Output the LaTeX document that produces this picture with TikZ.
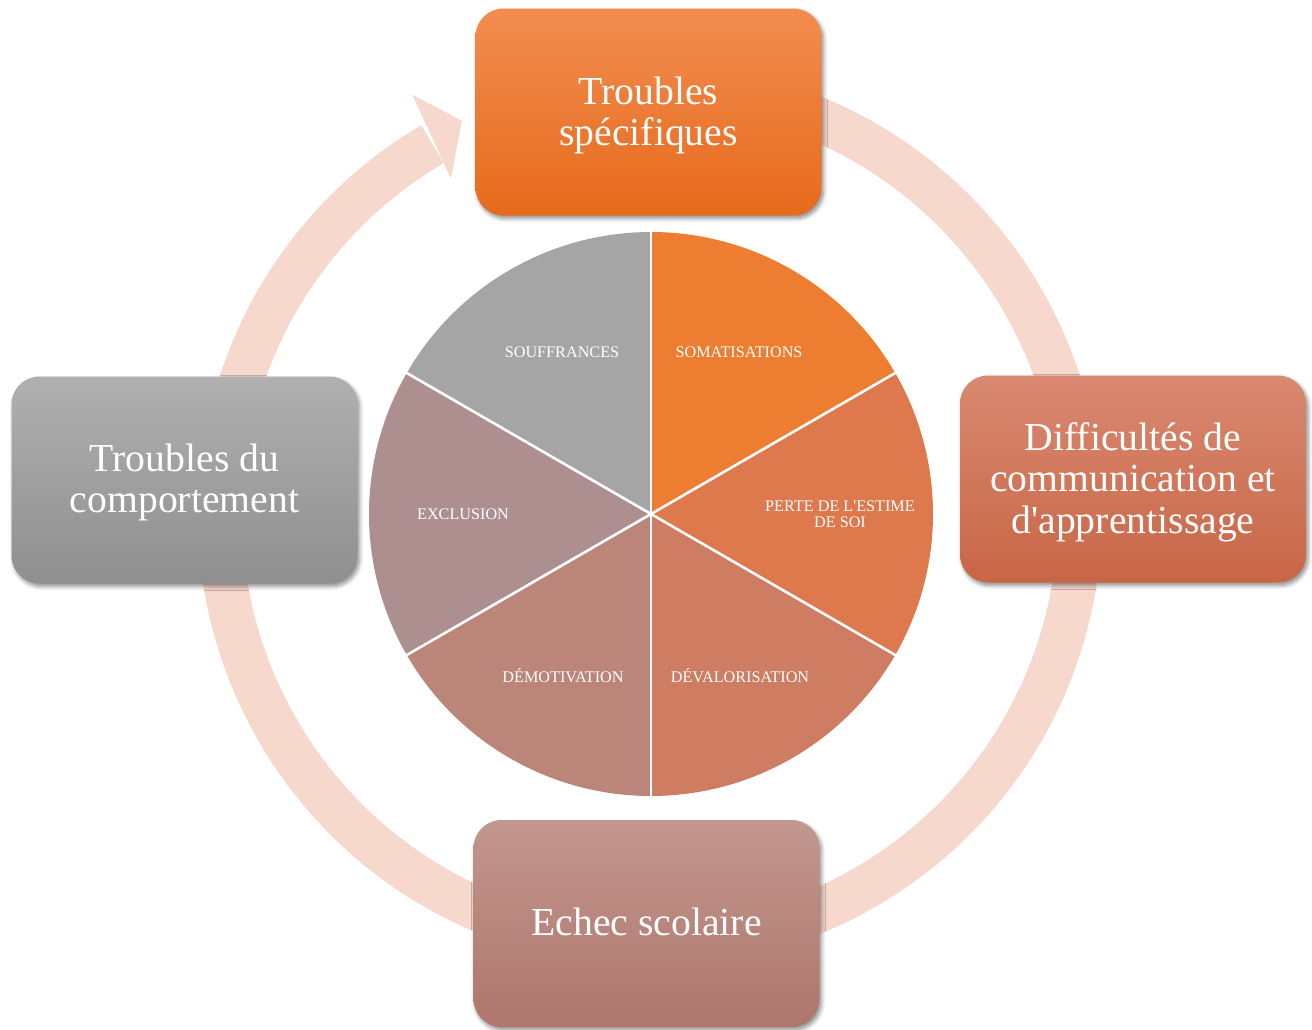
\documentclass[tikz,border=0pt]{standalone}
\usepackage{fontspec}
\setmainfont{Liberation Serif}[Ligatures=TeXOff]
\usetikzlibrary{shadows.blur}
\definecolor{ringc}{RGB}{247,216,205}
\definecolor{topA}{RGB}{242,141,80}
\definecolor{topB}{RGB}{230,106,28}
\definecolor{rgtA}{RGB}{217,137,113}
\definecolor{rgtB}{RGB}{200,102,70}
\definecolor{botA}{RGB}{194,151,143}
\definecolor{botB}{RGB}{174,118,108}
\definecolor{lftA}{RGB}{176,176,176}
\definecolor{lftB}{RGB}{143,143,143}
\definecolor{pA}{RGB}{237,125,49}
\definecolor{pB}{RGB}{221,121,76}
\definecolor{pC}{RGB}{206,124,98}
\definecolor{pD}{RGB}{188,133,122}
\definecolor{pE}{RGB}{174,143,143}
\definecolor{pF}{RGB}{165,165,165}
\tikzset{
  bigbox/.style={rectangle, rounded corners=28pt, minimum width=346pt, minimum height=207pt,
    inner sep=0pt,
    blur shadow={shadow xshift=2pt, shadow yshift=-3pt, shadow blur radius=4pt, shadow blur steps=6, shadow opacity=45}},
  boxtext/.style={align=center, text=white, inner sep=0pt, font=\fontsize{39.7}{41.5}\selectfont},
  slicelab/.style={text=white, align=center, font=\fontsize{16.2}{16.5}\selectfont, inner sep=0pt}
}
\begin{document}
\begin{tikzpicture}[x=1pt,y=1pt]
\useasboundingbox (0,0) rectangle (1312,-1029);
% ring with arrow head
\coordinate (rc) at (650,-515);
\draw[ringc, line width=44pt] ([shift={(78:430)}]rc) arc (78:-239.6:430);
\fill[ringc] ([shift={(119.5:483)}]rc) -- ([shift={(115.5:437)}]rc) -- ([shift={(120.6:391)}]rc) -- cycle;
% pie
\coordinate (pc) at (651,-514);
\def\pr{282}
\fill[pA] (pc) -- ++(90:\pr) arc (90:30:\pr) -- cycle;
\fill[pB] (pc) -- ++(30:\pr) arc (30:-30:\pr) -- cycle;
\fill[pC] (pc) -- ++(-30:\pr) arc (-30:-90:\pr) -- cycle;
\fill[pD] (pc) -- ++(-90:\pr) arc (-90:-150:\pr) -- cycle;
\fill[pE] (pc) -- ++(-150:\pr) arc (-150:-210:\pr) -- cycle;
\fill[pF] (pc) -- ++(150:\pr) arc (150:90:\pr) -- cycle;
\foreach \a in {90,30,-30,-90,-150,150}{
  \draw[white, line width=2.6pt] (pc) -- ++(\a:\pr+1);
}
\node[slicelab] (somat) at ([shift={(88,162)}]pc) {SOMATISATIONS};
\node[slicelab] (perte) at ([shift={(189,0)}]pc) {PERTE DE L'ESTIME\\DE SOI};
\node[slicelab] (deval) at ([shift={(89,-162)}]pc) {DÉVALORISATION};
\node[slicelab] (demot) at ([shift={(-88,-162)}]pc) {DÉMOTIVATION};
\node[slicelab] (exclu) at ([shift={(-188,0)}]pc) {EXCLUSION};
\node[slicelab] (souff) at ([shift={(-89,162)}]pc) {SOUFFRANCES};
% boxes
\node[bigbox, top color=topA, bottom color=topB] (ts) at (648.5,-112) {};
\node[bigbox, top color=rgtA, bottom color=rgtB] (dc) at (1133,-479) {};
\node[bigbox, top color=botA, bottom color=botB] (es) at (646.5,-923.5) {};
\node[bigbox, top color=lftA, bottom color=lftB] (tc) at (184.5,-480) {};
\node[boxtext] (tsT) at ([yshift=-3.5pt]ts.center) {Troubles\\spécifiques};
\node[boxtext] (dcT) at ([yshift=-3pt]dc.center) {Difficultés de\\communication et\\d'apprentissage};
\node[boxtext] (esT) at ([yshift=2pt]es.center) {Echec scolaire};
\node[boxtext] (tcT) at ([yshift=-2.5pt]tc.center) {Troubles du\\comportement};
\end{tikzpicture}
\end{document}
